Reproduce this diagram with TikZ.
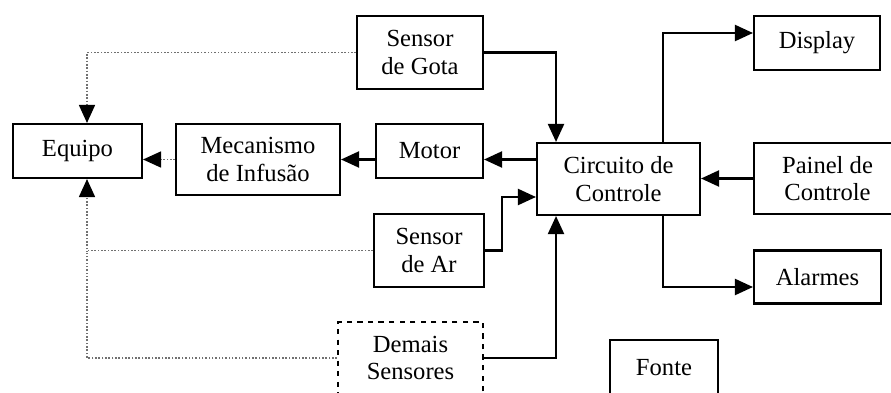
\documentclass[tikz,border=0pt]{standalone}
\usepackage{fontspec}
\setmainfont{Liberation Serif}
\usepackage{tikz}
\usetikzlibrary{arrows.meta,calc}
\definecolor{dotgrey}{HTML}{707070}

\begin{document}
\begin{tikzpicture}[x=0.02cm,y=-0.02cm,
  blk/.style={draw,line width=1.2pt,fill=white,align=center,inner sep=0pt,
    font=\fontsize{14}{15.5}\selectfont},
  dashblk/.style={blk,dashed},
  link/.style={line width=1.2pt,-{Triangle[length=3.6mm,width=3.2mm]}},
  dotlink/.style={dotgrey,densely dotted,line width=0.9pt,-{Triangle[length=3.6mm,width=3.2mm,color=black]}},
  dotline/.style={dotgrey,densely dotted,line width=0.9pt}
]
\useasboundingbox (0,0) rectangle (891,392);
\clip (0,0) rectangle (891,392);
% blocks
\node[blk,minimum width=2.52cm,minimum height=1.46cm] (gota) at (420,52.5) {Sensor\\de Gota};
\node[blk,minimum width=2.58cm,minimum height=1.08cm] (equipo) at (77.5,151) {Equipo};
\node[blk,minimum width=3.28cm,minimum height=1.42cm] (mec) at (258,159.5) {Mecanismo\\de Infusão};
\node[blk,minimum width=2.14cm,minimum height=1.08cm] (motor) at (429.5,151) {Motor};
\node[blk,minimum width=3.26cm,minimum height=1.44cm] (circ) at (618.5,179) {Circuito de\\Controle};
\node[blk,minimum width=2.52cm,minimum height=1.08cm] (display) at (817,43) {Display};
\node[blk,minimum width=2.94cm,minimum height=1.42cm] (painel) at (827.5,178.5) {Painel de\\Controle};
\node[blk,minimum width=2.20cm,minimum height=1.46cm] (ar) at (429,250.5) {Sensor\\de Ar};
\node[dashblk,minimum width=2.90cm,minimum height=1.44cm] (demais) at (410.5,358) {Demais\\Sensores};
\node[blk,minimum width=2.54cm,minimum height=1.06cm] (alarmes) at (817.5,277) {Alarmes};
\node[blk,minimum width=2.16cm,minimum height=1.12cm] (fonte) at (664,368) {Fonte};
% dotted paths to the equipo
\draw[dotlink] (gota.west) -| ([xshift=0.19cm]equipo.north);
\draw[dotlink] (mec.west) -- (equipo.east |- mec.west);
\draw[dotlink] (ar.west) -| ([xshift=0.19cm]equipo.south);
\draw[dotline] (demais.west) -| ([xshift=0.19cm]equipo.south |- ar.west);
% solid paths
\draw[link] (gota.east) -| ([xshift=-1.25cm]circ.north);
\draw[link] (demais.east) -| ([xshift=-1.25cm]circ.south);
\draw[link] (circ.west |- mec.west) -- (motor.east |- mec.west);
\draw[link] (motor.west |- mec.west) -- (mec.east);
\draw[link] (painel.west) -- (circ.east |- painel.west);
\draw[link] (ar.east) -- ++(0.34cm,0) |- ([yshift=-0.36cm]circ.west);
\draw[link] ([xshift=0.89cm]circ.north) |- ([yshift=0.2cm]display.west);
\draw[link] ([xshift=0.89cm]circ.south) |- ([yshift=-0.2cm]alarmes.west);
\end{tikzpicture}
\end{document}
